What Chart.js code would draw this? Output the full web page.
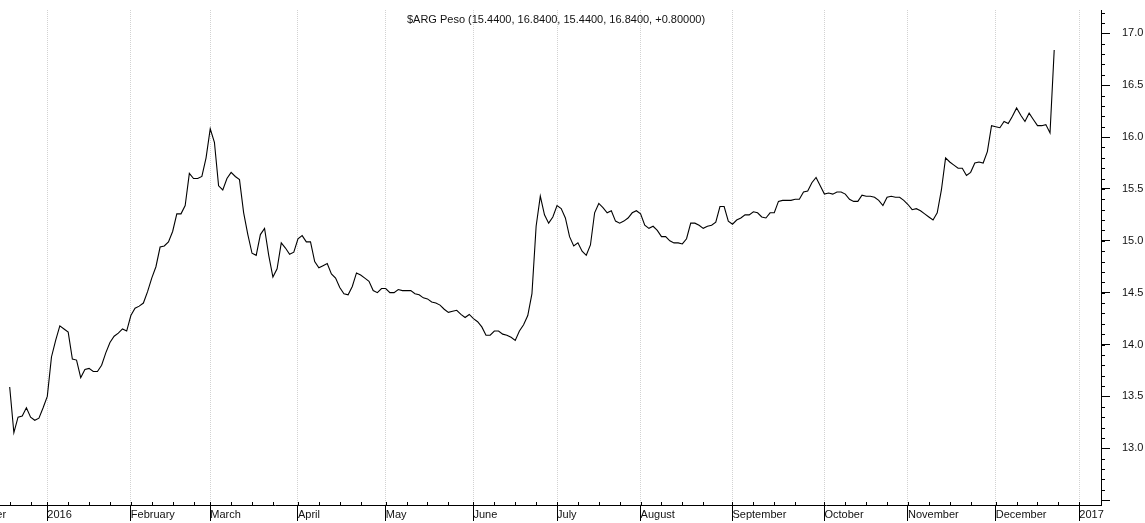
<!DOCTYPE html>
<html>
<head>
<meta charset="utf-8">
<script src="https://cdn.jsdelivr.net/npm/chart.js@4.4.0/dist/chart.umd.min.js"></script>
<style>
  html, body { margin: 0; padding: 0; background: #fff; }
  #c { display: block; }
</style>
</head>
<body>
<canvas id="c" width="1145" height="523"></canvas>
<script>
var title = "$ARG Peso (15.4400, 16.8400, 15.4400, 16.8400, +0.80000)";

// daily closes, one per trading day (Dec 2015 - Dec 2016)
var closes = [
  13.59, 13.15, 13.30, 13.31, 13.39, 13.30, 13.27, 13.29, 13.39, 13.50,
  13.88, 14.04, 14.18, 14.15, 14.12, 13.86, 13.85, 13.68, 13.76, 13.77,
  13.74, 13.74, 13.80, 13.92, 14.02, 14.08, 14.11, 14.15, 14.13, 14.28,
  14.35, 14.37, 14.40, 14.51, 14.64, 14.75, 14.94, 14.95, 14.99, 15.09,
  15.26, 15.26, 15.34, 15.65, 15.60, 15.60, 15.62, 15.80, 16.08, 15.95,
  15.53, 15.49, 15.60, 15.66, 15.62, 15.59, 15.27, 15.06, 14.88, 14.86,
  15.06, 15.12, 14.86, 14.65, 14.73, 14.98, 14.93, 14.87, 14.89, 15.02,
  15.05, 14.99, 14.99, 14.80, 14.74, 14.76, 14.78, 14.68, 14.64, 14.55,
  14.49, 14.48, 14.56, 14.69, 14.67, 14.64, 14.61, 14.52, 14.50, 14.54,
  14.54, 14.50, 14.50, 14.53, 14.52, 14.52, 14.52, 14.49, 14.48, 14.45,
  14.44, 14.41, 14.40, 14.38, 14.34, 14.31, 14.32, 14.33, 14.29, 14.26,
  14.29, 14.25, 14.22, 14.17, 14.09, 14.09, 14.13, 14.13, 14.10, 14.09,
  14.07, 14.04, 14.13, 14.19, 14.28, 14.49, 15.14, 15.43, 15.25, 15.17,
  15.23, 15.34, 15.31, 15.22, 15.04, 14.95, 14.98, 14.90, 14.86, 14.96,
  15.27, 15.36, 15.32, 15.27, 15.29, 15.19, 15.17, 15.19, 15.22, 15.27,
  15.29, 15.26, 15.15, 15.12, 15.14, 15.10, 15.04, 15.04, 15.00, 14.98,
  14.98, 14.97, 15.02, 15.17, 15.17, 15.15, 15.12, 15.14, 15.15, 15.18,
  15.33, 15.33, 15.19, 15.16, 15.20, 15.22, 15.25, 15.25, 15.28, 15.27,
  15.23, 15.22, 15.27, 15.27, 15.38, 15.39, 15.39, 15.39, 15.40, 15.40,
  15.47, 15.48, 15.56, 15.61, 15.53, 15.45, 15.46, 15.45, 15.47, 15.47,
  15.45, 15.40, 15.38, 15.38, 15.44, 15.43, 15.43, 15.42, 15.39, 15.34,
  15.42, 15.43, 15.42, 15.42, 15.39, 15.35, 15.30, 15.31, 15.29, 15.26,
  15.23, 15.20, 15.27, 15.49, 15.80, 15.76, 15.73, 15.70, 15.70, 15.63,
  15.66, 15.75, 15.76, 15.75, 15.86, 16.11, 16.10, 16.09, 16.15, 16.13,
  16.20, 16.28, 16.21, 16.15, 16.23, 16.17, 16.11, 16.11, 16.12, 16.04,
  16.84
];

// trading-day index of the first day of each month
var monthTicks = [-13, 9, 29, 48, 69, 90, 111, 131, 151, 173, 195, 215, 236, 256];
var monthLabels = ['December', '2016', 'February', 'March', 'April', 'May', 'June',
  'July', 'August', 'September', 'October', 'November', 'December', '2017'];

// weekly minor ticks
var weekTicks = [0, 5];
for (var m = 1; m < monthTicks.length - 1; m++) {
  for (var w = monthTicks[m]; w < monthTicks[m + 1] - 2; w += 5) weekTicks.push(w);
}
weekTicks.push(256);

var font = { family: '"Liberation Sans", Arial, sans-serif', size: 11 };

function noPadding(s) {
  s.paddingLeft = 0;
  s.paddingRight = 0;
  s.paddingTop = 0;
  s.paddingBottom = 0;
}

var extras = {
  id: 'extras',
  afterDraw: function (chart) {
    var ctx = chart.ctx, xs = chart.scales.x, ys = chart.scales.y, a = chart.chartArea;
    ctx.save();
    ctx.strokeStyle = '#000';
    ctx.lineWidth = 1;
    ctx.beginPath();
    weekTicks.forEach(function (t) {
      var px = Math.round(xs.getPixelForValue(t)) + 0.5;
      if (px < a.left || px > a.right) return;
      ctx.moveTo(px, a.bottom);
      ctx.lineTo(px, a.bottom - 3);
    });
    for (var k = 125; k <= 172; k++) {
      var py = Math.round(ys.getPixelForValue(k / 10)) + 0.5;
      ctx.moveTo(a.right, py);
      ctx.lineTo(a.right + 4, py);
    }
    ctx.stroke();
    ctx.fillStyle = '#111';
    ctx.font = '11px "Liberation Sans", Arial, sans-serif';
    ctx.textAlign = 'center';
    ctx.textBaseline = 'middle';
    ctx.fillText(title, 556, 20);
    ctx.restore();
  }
};

new Chart(document.getElementById('c'), {
  type: 'line',
  data: {
    datasets: [{
      data: closes.map(function (v, i) { return { x: i, y: v }; }),
      borderColor: '#000',
      borderWidth: 1.1,
      pointRadius: 0,
      tension: 0,
      fill: false
    }]
  },
  options: {
    responsive: false,
    animation: false,
    layout: { padding: { top: 10, left: 0, right: 0, bottom: 0 } },
    plugins: { legend: { display: false }, tooltip: { enabled: false } },
    scales: {
      x: {
        type: 'linear',
        min: -2.32,
        max: 261.2,
        afterBuildTicks: function (s) {
          s.ticks = monthTicks.map(function (v) { return { value: v }; });
        },
        afterFit: function (s) { s.height = 18; noPadding(s); },
        ticks: {
          autoSkip: false,
          maxRotation: 0,
          align: 'start',
          padding: -13,
          color: '#111',
          font: font,
          callback: function (v, i) { return monthLabels[i]; }
        },
        grid: { color: '#d2d2d2', tickColor: '#000', tickLength: 16, lineWidth: 1 },
        border: { display: true, color: '#000', dash: [1, 1] }
      },
      y: {
        position: 'right',
        min: 12.453,
        max: 17.225,
        afterFit: function (s) { s.width = 44; noPadding(s); },
        ticks: {
          stepSize: 0.5,
          includeBounds: false,
          padding: 12,
          color: '#111',
          font: font,
          callback: function (v) { return v >= 13 ? v.toFixed(1) : ''; }
        },
        grid: { drawOnChartArea: false, tickLength: 9, color: '#000' },
        border: { display: true, color: '#000' }
      }
    }
  },
  plugins: [extras]
});
</script>
</body>
</html>
